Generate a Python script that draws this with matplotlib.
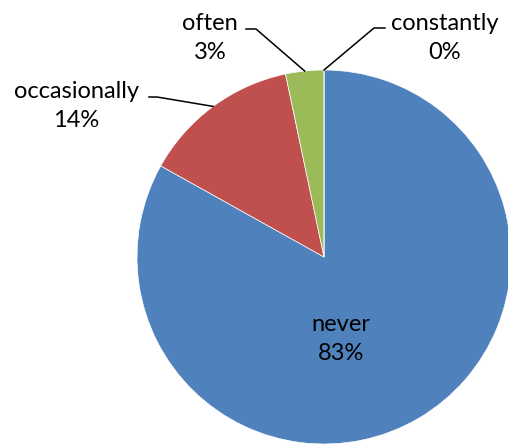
import numpy as np
import matplotlib.pyplot as plt

labels = ['never', 'occasionally', 'often', 'constantly']
values = [83.1, 13.6, 3.3, 0.0]
colors = ['#4F81BD', '#C0504D', '#9BBB59', '#8064A2']

W, H = 508, 445
cx, cy, R = 324, 257, 187


def px(x, y):
    # pixel position -> data coords (pie radius = 1)
    return (x - cx) / R, (cy - y) / R


plt.rcParams['font.family'] = ['Lato', 'DejaVu Sans']
fig = plt.figure(figsize=(W / 100, H / 100), dpi=100)
ax = fig.add_axes([0, 0, 1, 1])
wedges, _ = ax.pie(values, colors=colors, startangle=90, counterclock=False,
                   radius=1, wedgeprops=dict(linewidth=0.5, edgecolor='white'))
ax.set_xlim(-cx / R, (W - cx) / R)
ax.set_ylim((cy - H) / R, cy / R)
ax.set_aspect('auto')
ax.axis('off')

pct = [f'{round(v)}%' for v in values]
fs = 17

# never: inside the slice
x, y = px(341, 339)
ax.text(x, y, f'{labels[0]}\n{pct[0]}', ha='center', va='center', fontsize=fs,
        linespacing=1.45)

# outside labels: (text centre px, elbow px, end of horizontal px)
outside = {
    1: ((76, 106), (157, 97), (149, 97)),
    2: ((210, 38), (256, 29), (246, 29)),
    3: ((445, 38), (374, 28), (385, 28)),
}
for i, (tpos, elbow, hend) in outside.items():
    w = wedges[i]
    mid = np.deg2rad((w.theta1 + w.theta2) / 2)
    ex, ey = np.cos(mid), np.sin(mid)
    bx, by = px(*elbow)
    hx, hy = px(*hend)
    ax.plot([ex, bx, hx], [ey, by, hy], color='black', lw=1.1,
            solid_joinstyle='miter')
    tx, ty = px(*tpos)
    ax.text(tx, ty, f'{labels[i]}\n{pct[i]}', ha='center', va='center',
            fontsize=fs, linespacing=1.45)

fig.savefig('out.png', dpi=100)
